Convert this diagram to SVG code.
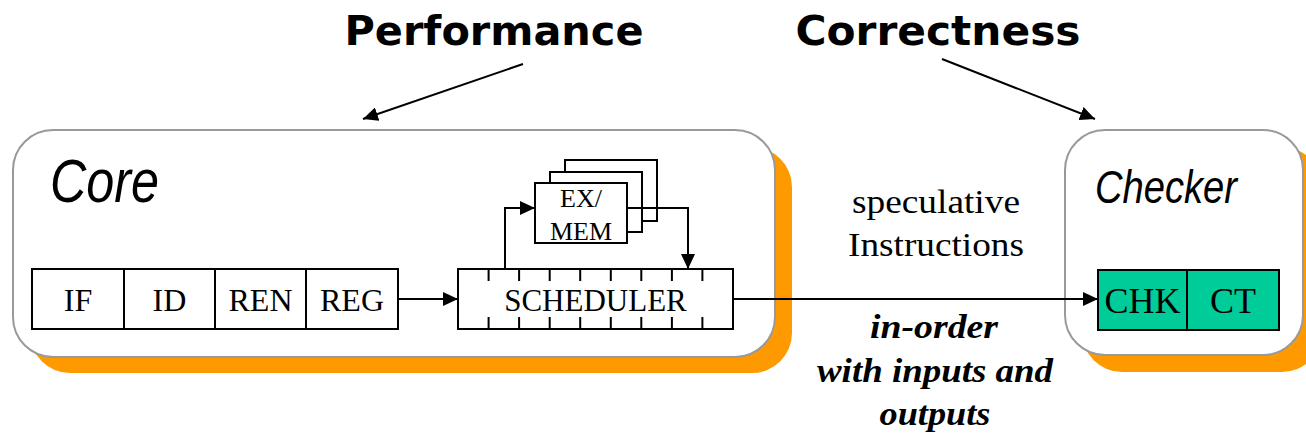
<svg xmlns="http://www.w3.org/2000/svg" width="1306" height="436" viewBox="0 0 1306 436">
<defs>
<marker id="ah" markerUnits="userSpaceOnUse" markerWidth="16" markerHeight="14" refX="15" refY="7" orient="auto">
<path d="M0,0 L15,7 L0,14 z" fill="#000"/>
</marker>
<style>
.shadow{fill:#FF9900;stroke:none}
.panel{fill:#fff;stroke:#999;stroke-width:2}
.stage{fill:#fff;stroke:#000;stroke-width:2}
.chk{fill:#00CC99;stroke:#000;stroke-width:2}
.tm{font-family:"Liberation Serif","Times New Roman",serif;fill:#000;text-anchor:middle}
.title{font-family:"DejaVu Sans",Verdana,sans-serif;font-weight:bold;font-size:41px;fill:#000;text-anchor:middle}
.ital{font-family:"Liberation Sans",Arial,sans-serif;font-style:italic;fill:#000}
.lbl{font-family:"Liberation Serif","Times New Roman",serif;font-size:33px;fill:#000;text-anchor:middle}
.bi{font-family:"Liberation Serif","Times New Roman",serif;font-size:34px;font-weight:bold;font-style:italic;fill:#000;text-anchor:middle}
.ln{fill:none;stroke:#000;stroke-width:2}
</style>
</defs>
<rect width="1306" height="436" fill="#fff"/>

<g id="titles">
<text class="title" x="494" y="45" textLength="299" lengthAdjust="spacingAndGlyphs">Performance</text>
<text class="title" x="938" y="45" textLength="285" lengthAdjust="spacingAndGlyphs">Correctness</text>
</g>

<g id="core">
<rect class="shadow" x="30" y="147" width="762" height="226" rx="40"/>
<rect class="panel" x="13" y="130" width="762" height="227" rx="40"/>
<text class="ital" x="50" y="202" font-size="62" textLength="109" lengthAdjust="spacingAndGlyphs">Core</text>
</g>

<g id="checker">
<rect class="shadow" x="1082" y="147" width="240" height="225" rx="40"/>
<rect class="panel" x="1065" y="130" width="238" height="225" rx="40"/>
<text class="ital" x="1095" y="203" font-size="47" textLength="142" lengthAdjust="spacingAndGlyphs">Checker</text>
</g>

<g id="pipeline">
<rect class="stage" x="32" y="269" width="92" height="60"/>
<rect class="stage" x="124" y="269" width="91" height="60"/>
<rect class="stage" x="215" y="269" width="91" height="60"/>
<rect class="stage" x="306" y="269" width="92" height="60"/>
<text class="tm" x="78" y="311" font-size="32">IF</text>
<text class="tm" x="169.5" y="311" font-size="32">ID</text>
<text class="tm" x="260.5" y="311" font-size="32">REN</text>
<text class="tm" x="352" y="311" font-size="32">REG</text>
</g>

<g id="scheduler">
<rect class="stage" x="458" y="269" width="275" height="60"/>
<path class="ln" d="M488.6,269v12M519.1,269v12M549.7,269v12M580.2,269v12M610.8,269v12M641.3,269v12M671.9,269v12M702.4,269v12M488.6,329v-12M519.1,329v-12M549.7,329v-12M580.2,329v-12M610.8,329v-12M641.3,329v-12M671.9,329v-12M702.4,329v-12"/>
<text class="tm" x="595.5" y="311" font-size="31">SCHEDULER</text>
</g>

<g id="exmem">
<rect class="stage" x="565" y="160" width="92" height="61"/>
<rect class="stage" x="550" y="172" width="92" height="60"/>
<rect class="stage" x="535" y="183" width="92" height="60"/>
<text class="tm" x="581" y="207" font-size="26">EX/</text>
<text class="tm" x="581" y="240" font-size="26">MEM</text>
</g>

<g id="checkstages">
<rect class="chk" x="1098" y="270" width="89" height="60"/>
<rect class="chk" x="1187" y="270" width="92" height="60"/>
<text class="tm" x="1142.5" y="313" font-size="36">CHK</text>
<text class="tm" x="1233" y="313" font-size="36">CT</text>
</g>

<g id="connectors">
<line class="ln" x1="523" y1="64" x2="363" y2="119" marker-end="url(#ah)"/>
<line class="ln" x1="942" y1="59" x2="1095" y2="119" marker-end="url(#ah)"/>
<line class="ln" x1="398" y1="299" x2="458" y2="299" marker-end="url(#ah)"/>
<polyline class="ln" points="505,269 505,208 535,208" marker-end="url(#ah)"/>
<polyline class="ln" points="627,208 688,208 688,269" marker-end="url(#ah)"/>
<line class="ln" x1="733" y1="299" x2="1098" y2="299" marker-end="url(#ah)"/>
</g>

<g id="labels">
<text class="lbl" x="936" y="213" textLength="168" lengthAdjust="spacingAndGlyphs">speculative</text>
<text class="lbl" x="936" y="256" textLength="176" lengthAdjust="spacingAndGlyphs">Instructions</text>
<text class="bi" x="934" y="338" textLength="128" lengthAdjust="spacingAndGlyphs">in-order</text>
<text class="bi" x="935" y="382" textLength="236" lengthAdjust="spacingAndGlyphs">with inputs and</text>
<text class="bi" x="935" y="425" textLength="111" lengthAdjust="spacingAndGlyphs">outputs</text>
</g>
</svg>
